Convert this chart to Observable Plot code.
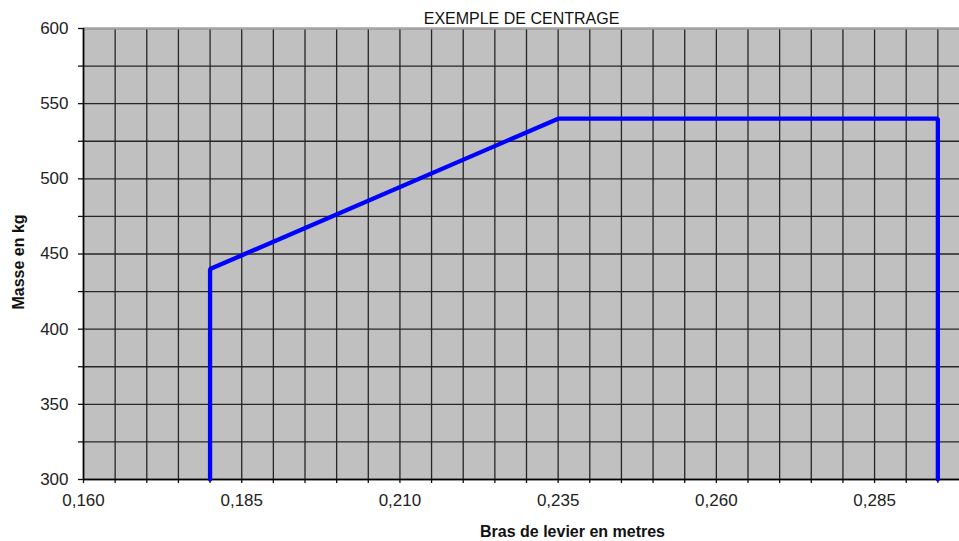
<!DOCTYPE html>
<html><head><meta charset="utf-8">
<script src="https://cdn.jsdelivr.net/npm/d3@7"></script>
<script src="https://cdn.jsdelivr.net/npm/@observablehq/plot@0.6"></script>
<style>body{margin:0;background:#fff;overflow:hidden}</style>
</head><body><div id="chart"></div>
<script>
const title = "EXEMPLE DE CENTRAGE";
const xLabel = "Bras de levier en metres";
const yLabel = "Masse en kg";
// envelope (centrage) points
const armX = [0.180, 0.180, 0.235, 0.295, 0.295];
const massY = [300, 440, 540, 540, 300];
// tick labels
const xTickLabels = [0.160, 0.185, 0.210, 0.235, 0.260, 0.285];
const yTickLabels = [300, 350, 400, 450, 500, 550, 600];
const xGridTicks = d3.range(32, 61).map(i => i / 200);
const yGridTicks = d3.range(300, 601, 25);

const envelope = armX.map((x, i) => ({x, y: massY[i]}));
const fr = d3.formatLocale({decimal: ",", thousands: " ", grouping: [3], currency: ["", " €"]});
const fmt = fr.format(".3f");
const gridStyle = {stroke: "#262626", strokeOpacity: 1, strokeWidth: 1.3};

const chart = Plot.plot({
  width: 959, height: 541,
  marginLeft: 83, marginRight: 0, marginTop: 28, marginBottom: 62,
  style: {fontFamily: "'Liberation Sans', Arial, sans-serif", fontSize: "17px", color: "#222", background: "#fff", overflow: "hidden"},
  x: {domain: [0.16, 0.30], range: [83, 969], label: null},
  y: {domain: [300, 600], label: null},
  marks: [
    Plot.frame({fill: "#c0c0c0", stroke: null}),
    Plot.gridY(yGridTicks, gridStyle),
    Plot.gridX(xGridTicks, gridStyle),
    Plot.ruleY([600], {stroke: "#a8a8a8", strokeWidth: 2}),
    Plot.axisY(yGridTicks, {tickSize: 5, tickFormat: () => "", stroke: "#111", strokeWidth: 1.3}),
    Plot.axisY(yTickLabels, {tickSize: 0, tickPadding: 15, tickFormat: d => String(d), fill: "#222"}),
    Plot.axisX(xGridTicks, {tickSize: 4, tickFormat: () => "", stroke: "#111", strokeWidth: 1.3}),
    Plot.axisX(xTickLabels, {tickSize: 0, tickPadding: 14, tickFormat: fmt, fill: "#222"}),
    Plot.ruleY([300], {stroke: "#000", strokeWidth: 1.6}),
    Plot.ruleX([0.16], {stroke: "#000", strokeWidth: 1.6}),
    Plot.line(envelope, {x: "x", y: "y", stroke: "#0000ff", strokeWidth: 4.3, strokeLinejoin: "miter"}),
    Plot.text([title], {frameAnchor: "top", lineAnchor: "middle", dy: -10, fontSize: 16, fill: "#111"}),
    Plot.text([xLabel], {frameAnchor: "bottom", lineAnchor: "middle", dy: 52, dx: 51, fontSize: 16, fontWeight: "bold", fill: "#111"}),
    Plot.text([yLabel], {frameAnchor: "left", textAnchor: "middle", lineAnchor: "middle", rotate: -90, dx: -65, dy: 8, fontSize: 16, fontWeight: "bold", fill: "#111"})
  ]
});
document.getElementById("chart").appendChild(chart);
</script>
</body></html>
